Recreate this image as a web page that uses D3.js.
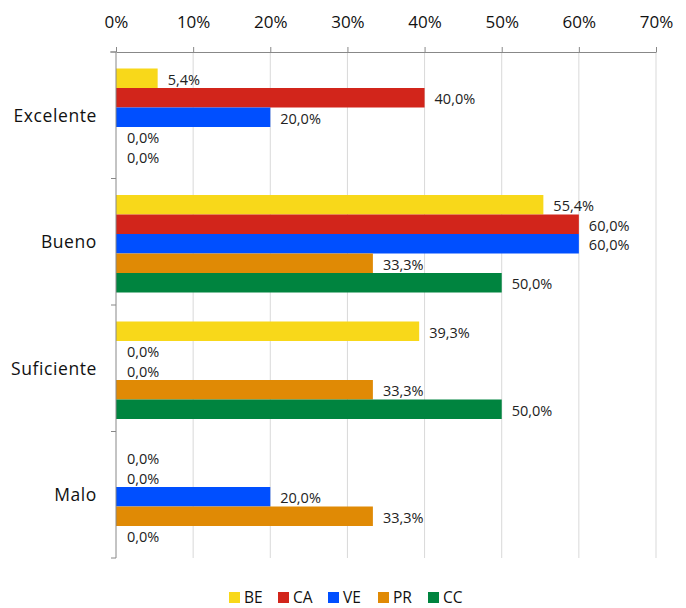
<!DOCTYPE html>
<html><head><meta charset="utf-8">
<script src="https://cdn.jsdelivr.net/npm/d3@7"></script>
<style>body{margin:0;background:#fff}svg{display:block;font-family:"Open Sans",sans-serif}</style>
</head><body><svg id="c" width="686" height="608"></svg>
<script>
const categories = ["Excelente", "Bueno", "Suficiente", "Malo"];
const seriesNames = ["BE", "CA", "VE", "PR", "CC"];
const seriesColors = ["#F8D81A", "#D2251B", "#004FFF", "#E08A05", "#00843F"];
const BE = [5.4, 55.4, 39.3, 0.0];
const CA = [40.0, 60.0, 0.0, 0.0];
const VE = [20.0, 60.0, 0.0, 20.0];
const PR = [0.0, 33.3, 33.3, 33.3];
const CC = [0.0, 50.0, 50.0, 0.0];
const tickValues = [0, 10, 20, 30, 40, 50, 60, 70];
const seriesValues = [BE, CA, VE, PR, CC];

const svg = d3.select("#c");
const mLeft = 116, mRight = 656, mTop = 52, mBottom = 558;
const x = d3.scaleLinear().domain([0, 70]).range([mLeft, mRight]);
const y = d3.scaleBand().domain(categories).range([mTop, mBottom]);
const bw = y.bandwidth();
const inner = d3.scaleBand().domain(seriesNames).range([16.5, bw - 12.5]);

// gridlines
svg.append("g").selectAll("line").data(tickValues.slice(1)).join("line")
  .attr("x1", d => x(d)).attr("x2", d => x(d)).attr("y1", mTop).attr("y2", mBottom)
  .attr("stroke", "#d9d9d9").attr("stroke-width", 1);

// bars
const fmt = v => d3.format(".1f")(v).replace(".", ",") + "%";
seriesNames.forEach((s, si) => {
  const g = svg.append("g");
  const data = categories.map((c, ci) => ({c, v: seriesValues[si][ci]}));
  g.selectAll("rect").data(data).join("rect")
    .attr("x", x(0)).attr("y", d => y(d.c) + inner(s))
    .attr("width", d => x(d.v) - x(0)).attr("height", inner.bandwidth())
    .attr("fill", seriesColors[si]);
  g.selectAll("text").data(data).join("text")
    .attr("x", d => x(d.v) + (d.v === 0 ? 11 : 10))
    .attr("y", d => y(d.c) + inner(s) + inner.bandwidth() / 2)
    .attr("dy", "0.45em")
    .attr("font-size", 14.5).attr("fill", "#222")
    .text(d => fmt(d.v));
});

// top axis
const xAxis = d3.axisTop(x).tickValues(tickValues).tickFormat(d => d + "%").tickSize(5).tickSizeOuter(0);
const gx = svg.append("g").attr("transform", `translate(0,${mTop})`).call(xAxis);
gx.select(".domain").attr("stroke", "#888");
gx.selectAll(".tick line").attr("stroke", "#888");
gx.selectAll(".tick text").attr("font-size", 17).attr("fill", "#111").attr("y", -24).attr("dy", 0)
  .attr("font-family", "Open Sans, sans-serif");

// left axis
svg.append("line").attr("x1", mLeft - 6).attr("x2", mLeft).attr("y1", mTop).attr("y2", mTop).attr("stroke", "#888");
svg.append("line").attr("x1", mLeft).attr("x2", mLeft).attr("y1", mTop).attr("y2", mBottom).attr("stroke", "#888");
const bounds = categories.map(c => y(c)).concat([mBottom]);
svg.append("g").selectAll("line").data(bounds).join("line")
  .attr("x1", mLeft - 5).attr("x2", mLeft).attr("y1", d => d).attr("y2", d => d).attr("stroke", "#888");
svg.append("g").selectAll("text").data(categories).join("text")
  .attr("x", 97).attr("y", d => y(d) + bw / 2).attr("dy", "0.36em")
  .attr("text-anchor", "end").attr("font-size", 17.5).attr("fill", "#111")
  .attr("letter-spacing", 0.6)
  .text(d => d);

// legend
const legX = [229, 278, 328, 378, 428];
const lg = svg.append("g").selectAll("g").data(seriesNames).join("g")
  .attr("transform", (d, i) => `translate(${legX[i]},592)`);
lg.append("rect").attr("width", 11).attr("height", 11).attr("fill", (d, i) => seriesColors[i]);
lg.append("text").attr("x", 15).attr("y", 11).attr("font-size", 15.5).attr("fill", "#111").text(d => d);
</script>
</body></html>
